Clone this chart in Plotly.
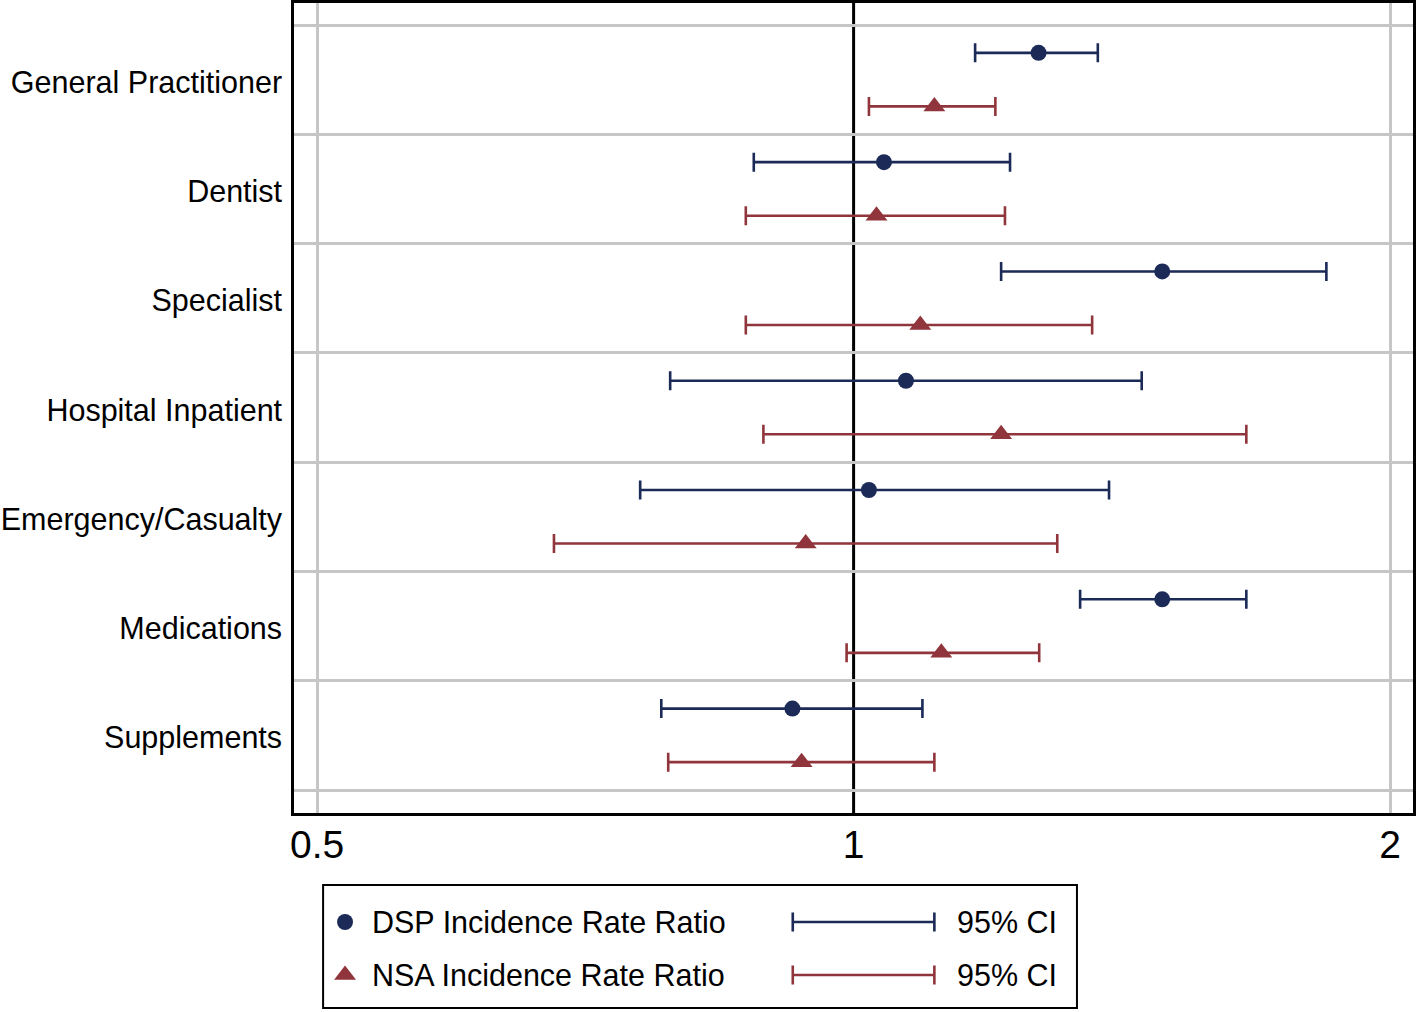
import plotly.graph_objects as go

# ---------------- data ----------------
categories = ["General Practitioner", "Dentist", "Specialist", "Hospital Inpatient",
              "Emergency/Casualty", "Medications", "Supplements"]
dsp_irr = [1.27, 1.04, 1.49, 1.07, 1.02, 1.49, 0.924]
dsp_lo = [1.17, 0.879, 1.21, 0.789, 0.759, 1.34, 0.78]
dsp_hi = [1.371, 1.224, 1.842, 1.451, 1.391, 1.661, 1.093]
nsa_irr = [1.11, 1.03, 1.09, 1.21, 0.94, 1.12, 0.935]
nsa_lo = [1.02, 0.87, 0.87, 0.89, 0.679, 0.991, 0.787]
nsa_hi = [1.201, 1.216, 1.361, 1.661, 1.301, 1.271, 1.11]
x_ticks = [0.5, 1, 2]
x_tick_labels = ["0.5", "1", "2"]
x_grid = [0.5, 2]
ref_value = 1
legend_labels = ["DSP Incidence Rate Ratio", "NSA Incidence Rate Ratio"]
ci_label = "95% CI"

# ---------------- style ----------------
NAVY = "#1b2a56"
MAROON = "#90353b"
GRID = "#c6c6c6"
FONT = "Liberation Sans, Arial, sans-serif"
W, H = 1418, 1012
OFF = 0.245
LABEL_SHIFT = 0.022
XR = [-0.3139, 0.3139]

n = len(categories)
centers = [n - 0.5 - i for i in range(n)]
label_pos = [c - LABEL_SHIFT for c in centers]
y_dsp = [c + OFF for c in centers]
y_nsa = [c - OFF for c in centers]

def plus(v, hi):
    return [h - p for p, h in zip(v, hi)]

def minus(v, lo):
    return [p - l for p, l in zip(v, lo)]

fig = go.Figure()

fig.add_trace(go.Scatter(
    x=dsp_irr, y=y_dsp, mode="markers", name=legend_labels[0], showlegend=False,
    marker=dict(symbol="circle", size=16, color=NAVY),
    error_x=dict(type="data", symmetric=False, array=plus(dsp_irr, dsp_hi),
                 arrayminus=minus(dsp_irr, dsp_lo), color=NAVY, thickness=2.6, width=9.5),
    xaxis="x", yaxis="y"))
fig.add_trace(go.Scatter(
    x=nsa_irr, y=y_nsa, mode="markers", name=legend_labels[1], showlegend=False,
    marker=dict(symbol="triangle-up", size=19, color=MAROON),
    error_x=dict(type="data", symmetric=False, array=plus(nsa_irr, nsa_hi),
                 arrayminus=minus(nsa_irr, nsa_lo), color=MAROON, thickness=2.6, width=9.5),
    xaxis="x", yaxis="y"))

# ---------------- manual legend (auxiliary axis) ----------------
lx0, lx1, ly0, ly1 = 320, 1076, 885, 1008
row_y = [(ly1 - 922) / (ly1 - ly0), (ly1 - 975) / (ly1 - ly0)]
sym_x = (342 - lx0) / (lx1 - lx0)
txt_x = (367 - lx0) / (lx1 - lx0)
ci_mid = ((791 + 933) / 2 - lx0) / (lx1 - lx0)
ci_half = ((933 - 791) / 2) / (lx1 - lx0)
ci_txt = (954 - lx0) / (lx1 - lx0)

for k, (sym, col, sz) in enumerate([("circle", NAVY, 16), ("triangle-up", MAROON, 19)]):
    fig.add_trace(go.Scatter(x=[sym_x], y=[row_y[k]], mode="markers", showlegend=False,
                             marker=dict(symbol=sym, size=sz, color=col),
                             xaxis="x2", yaxis="y2", hoverinfo="skip"))
    fig.add_trace(go.Scatter(x=[ci_mid], y=[row_y[k]], mode="markers", showlegend=False,
                             marker=dict(size=1, color="rgba(0,0,0,0)"),
                             error_x=dict(type="data", array=[ci_half], color=col,
                                          thickness=2.6, width=9.5),
                             xaxis="x2", yaxis="y2", hoverinfo="skip"))
    fig.add_annotation(x=txt_x, y=row_y[k], xref="x2", yref="y2", text=legend_labels[k],
                       showarrow=False, xanchor="left", yanchor="middle",
                       font=dict(family=FONT, size=30.5, color="black"))
    fig.add_annotation(x=ci_txt, y=row_y[k], xref="x2", yref="y2", text=ci_label,
                       showarrow=False, xanchor="left", yanchor="middle",
                       font=dict(family=FONT, size=30.5, color="black"))

fig.add_shape(type="rect", xref="x2 domain", yref="y2 domain", x0=0, x1=1, y0=0, y1=1,
              line=dict(color="black", width=2), fillcolor="rgba(0,0,0,0)")

# reference line at 1 (below gridlines & traces)
fig.add_shape(type="line", xref="x", yref="y domain", x0=ref_value, x1=ref_value,
              y0=0, y1=1, line=dict(color="black", width=3), layer="below")

# ---------------- axes ----------------
px_per_unit = (790 - 25) / n
y_bottom = -(813 - 790) / px_per_unit
y_top = n + (25 - 3) / px_per_unit
xdom = [291 / W, 1413 / W]

fig.update_layout(
    width=W, height=H,
    margin=dict(l=0, r=0, t=0, b=0),
    paper_bgcolor="white", plot_bgcolor="white",
    font=dict(family=FONT, color="black"),
    showlegend=False,
    xaxis=dict(domain=xdom, type="log", range=XR,
               tickmode="array", tickvals=x_ticks, ticktext=x_tick_labels,
               showgrid=False, zeroline=False,
               minor=dict(tickmode="array", tickvals=x_grid, showgrid=True,
                          gridcolor=GRID, gridwidth=3, ticks=""),
               showline=True, mirror=True, linecolor="black", linewidth=3,
               ticks="", ticklabelstandoff=-5,
               tickfont=dict(family=FONT, size=39, color="black"),
               anchor="y", fixedrange=True),
    yaxis=dict(domain=[(H - 813) / H, (H - 3) / H], range=[y_bottom, y_top],
               tickmode="array", tickvals=label_pos, ticktext=categories,
               showgrid=False, zeroline=False,
               minor=dict(tickmode="array", tickvals=list(range(n + 1)), showgrid=True,
                          gridcolor=GRID, gridwidth=3, ticks=""),
               showline=True, mirror=True, linecolor="black", linewidth=3,
               ticks="", ticklabelstandoff=3,
               tickfont=dict(family=FONT, size=30.5, color="black"),
               anchor="x", fixedrange=True),
    xaxis2=dict(domain=[lx0 / W, lx1 / W], range=[0, 1], visible=False, anchor="y2",
                fixedrange=True),
    yaxis2=dict(domain=[(H - ly1) / H, (H - ly0) / H], range=[0, 1], visible=False,
                anchor="x2", fixedrange=True),
)

fig.write_html("out.html", config={"displayModeBar": False},
               post_script="document.body.style.margin='0px';"
                           "document.body.style.overflow='hidden';")
